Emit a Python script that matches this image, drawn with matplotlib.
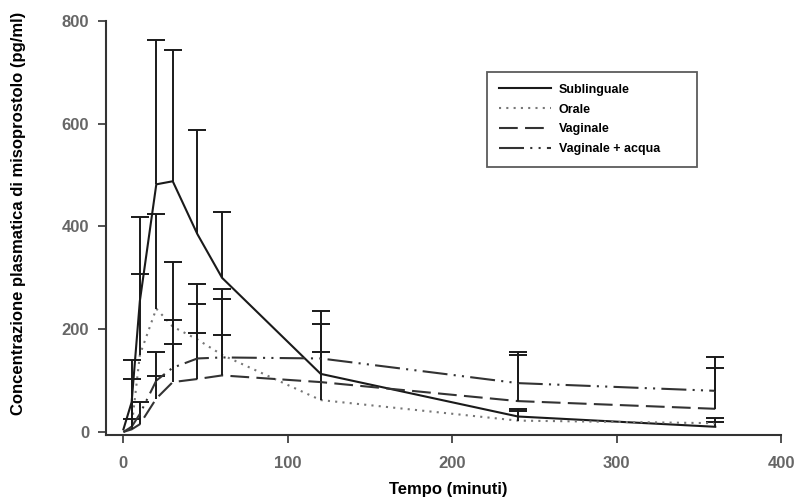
import numpy as np
import matplotlib
matplotlib.use("Agg")
import matplotlib.pyplot as plt

plt.rcParams.update({
    "font.family": "Liberation Sans",
    "font.weight": "bold",
    "font.size": 10,
})

# time points (minutes)
tempo = [0, 5, 10, 20, 30, 45, 60, 120, 240, 360]

# mean plasma concentration (pg/ml) and upper SD
sublinguale = [5, 58, 255, 482, 488, 385, 300, 113, 30, 10]
sublinguale_sd = [0, 0, 163, 281, 255, 203, 128, 123, 15, 9]

orale = [0, 10, 150, 240, 205, 180, 150, 62, 22, 17]
orale_sd = [0, 15, 157, 184, 125, 108, 109, 94, 18, 10]

vaginale = [0, 5, 15, 65, 97, 103, 110, 97, 60, 45]
vaginale_sd = [0, 98, 43, 43, 74, 89, 79, 0, 90, 101]

vaginale_acqua = [0, 10, 35, 100, 125, 143, 145, 143, 95, 80]
vaginale_acqua_sd = [0, 130, 0, 55, 93, 106, 133, 67, 61, 45]

series = [
    ("Sublinguale", sublinguale, sublinguale_sd, "-", "#1a1a1a"),
    ("Orale", orale, orale_sd, (0, (1, 2.5)), "#777777"),
    ("Vaginale", vaginale, vaginale_sd, (0, (9, 3.5)), "#333333"),
    ("Vaginale + acqua", vaginale_acqua, vaginale_acqua_sd,
     (0, (12, 3, 1, 3, 1, 3)), "#333333"),
]

fig = plt.figure(figsize=(7.95, 4.99), dpi=100)
ax = fig.add_axes([106 / 795, 1 - 435 / 499, (781 - 106) / 795, (435 - 21) / 499])

t = np.array(tempo)
for name, y, sd, ls, col in series:
    y = np.array(y, dtype=float)
    sd = np.array(sd, dtype=float)
    ax.plot(t, y, linestyle=ls, color=col, lw=1.5, label=name)
    m = sd > 0
    # one-sided (upper) error bars with a cap only at the top
    ax.vlines(t[m], y[m], y[m] + sd[m], color="#1a1a1a", lw=1.4)
    ax.plot(t[m], y[m] + sd[m], ls="none", marker="_", ms=13, mew=1.4,
            color="#1a1a1a")

ax.set_xlim(-10.6, 400)
ax.set_ylim(-6, 800)
ax.set_xticks([0, 100, 200, 300, 400])
ax.set_yticks([0, 200, 400, 600, 800])

for s in ("top", "right"):
    ax.spines[s].set_visible(False)
for s in ("left", "bottom"):
    ax.spines[s].set_color("#333333")
    ax.spines[s].set_linewidth(1.5)

ax.tick_params(axis="both", colors="#333333", labelcolor="#666666",
               length=6, width=1.2, labelsize=12)
ax.tick_params(axis="y", pad=6)
ax.tick_params(axis="x", pad=9)

ax.set_xlabel("Tempo (minuti)", fontsize=12, fontweight="bold")
ax.set_ylabel("Concentrazione plasmatica di misoprostolo (pg/ml)",
              fontsize=12, fontweight="bold")
ax.xaxis.set_label_coords((448 - 106) / 675, (435 - 482) / 414)
ax.yaxis.set_label_coords((26 - 106) / 675, (435 - 213) / 414)

leg = ax.legend(loc="upper left", bbox_to_anchor=(0.564, 0.640, 0.312, 0.237),
                mode="expand", borderaxespad=0, fontsize=9, frameon=True,
                fancybox=False, handlelength=4.2, borderpad=0.95,
                labelspacing=0.62, handletextpad=0.6)
leg.get_frame().set_edgecolor("#333333")
leg.get_frame().set_linewidth(1.3)

fig.savefig("out.png", dpi=100)
